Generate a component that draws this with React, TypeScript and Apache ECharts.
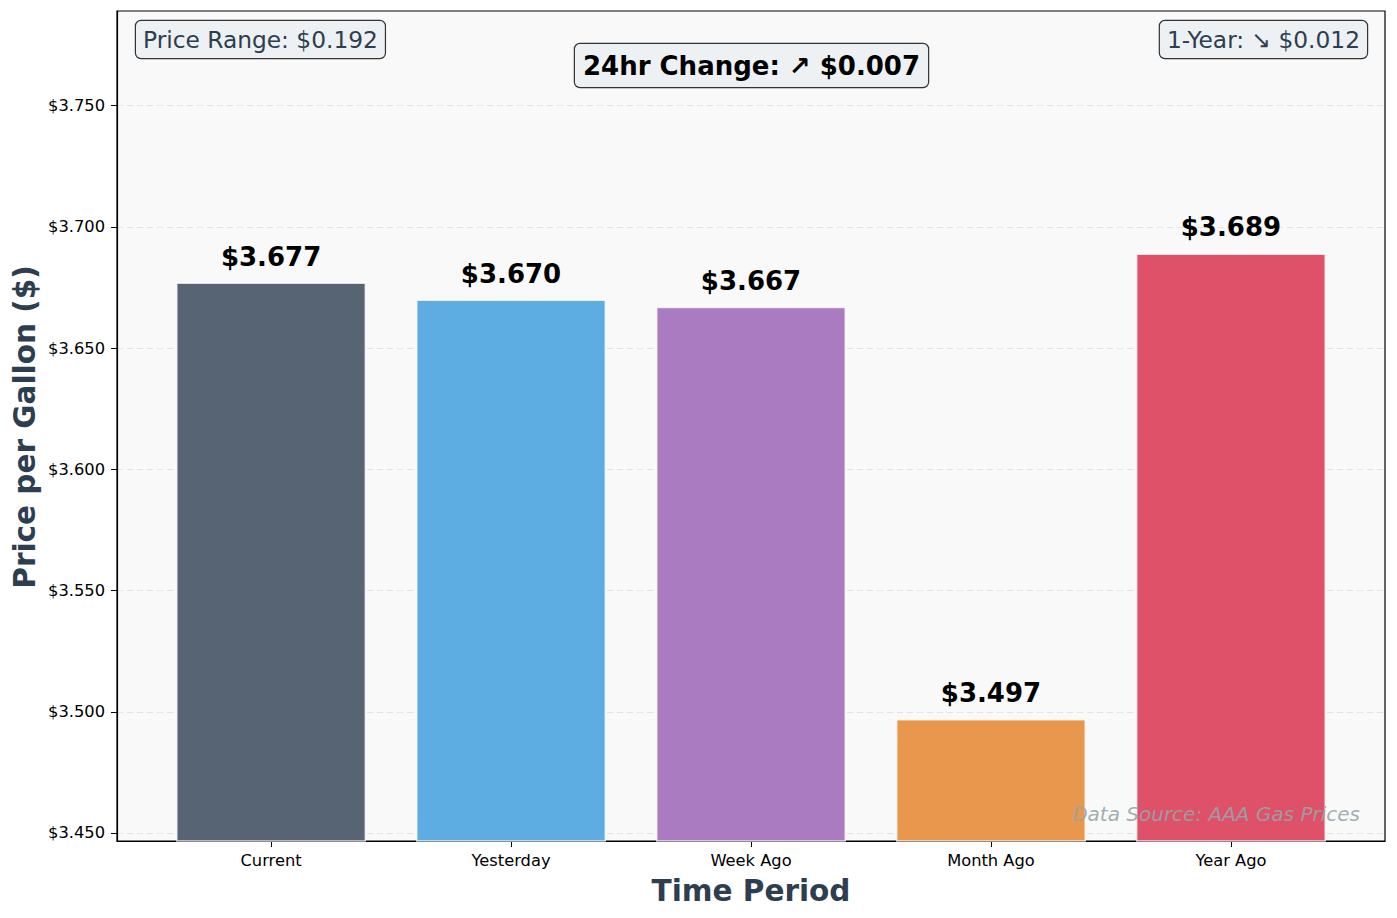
import React, { useEffect, useRef } from 'react';
import * as echarts from 'echarts';

const periods = ['Current', 'Yesterday', 'Week Ago', 'Month Ago', 'Year Ago'];
const prices = [3.677, 3.67, 3.667, 3.497, 3.689];
const barColors = ['#566473', '#5dade2', '#ab7bc2', '#ea974e', '#df5169'];
const yTicks = [3.45, 3.5, 3.55, 3.6, 3.65, 3.7, 3.75];

const FONT = 'DejaVu Sans';

const App: React.FC = () => {
  const chartRef = useRef<HTMLDivElement>(null);

  useEffect(() => {
    const chart = echarts.init(chartRef.current!, null, { renderer: 'svg' });

    const option = {
      animation: false,
      backgroundColor: '#ffffff',
      grid: {
        left: 117,
        right: 12,
        top: 11,
        bottom: 77,
        show: true,
        backgroundColor: '#f9f9f9',
        borderColor: '#000',
        borderWidth: 1.2,
      },
      xAxis: {
        type: 'value',
        min: -0.642,
        max: 4.642,
        axisLine: { show: true, onZero: false, lineStyle: { color: '#000', width: 1.2 } },
        axisTick: { show: true, length: 6, customValues: periods.map((_, i) => i), lineStyle: { color: '#000' } },
        axisLabel: {
          customValues: periods.map((_, i) => i),
          formatter: (v: number) => periods[Math.round(v)] ?? '',
          color: '#000',
          fontFamily: FONT,
          fontSize: 16.3,
          margin: 11,
        },
        splitLine: { show: false },
      },
      yAxis: {
        type: 'value',
        min: 3.4467,
        max: 3.789,
        axisLine: { show: true, onZero: false, lineStyle: { color: '#000', width: 1.2 } },
        axisTick: { show: true, length: 6, customValues: yTicks, lineStyle: { color: '#000' } },
        axisLabel: {
          customValues: yTicks,
          formatter: (v: number) => '$' + v.toFixed(3),
          color: '#000',
          fontFamily: FONT,
          fontSize: 16.3,
          margin: 12,
        },
        splitLine: { show: true, lineStyle: { color: '#e3e3e3', type: [6, 4], width: 1 } },
      },
      series: [
        {
          type: 'bar',
          barWidth: 190,
          data: prices.map((p, i) => ({
            value: [i, p],
            itemStyle: { color: barColors[i], borderColor: 'rgba(255,255,255,0.75)', borderWidth: 1.5 },
          })),
          label: {
            show: true,
            position: 'top',
            distance: 13,
            formatter: (p: any) => '$' + p.value[1].toFixed(3),
            fontFamily: FONT,
            fontWeight: 'bold',
            fontSize: 26,
            color: '#000',
          },
        },
      ],
      graphic: [
        {
          type: 'text',
          x: 751,
          y: 891,
          style: {
            text: 'Time Period',
            align: 'center',
            verticalAlign: 'middle',
            fontFamily: FONT,
            fontWeight: 'bold',
            fontSize: 29.5,
            fill: '#2c3e50',
          },
        },
        {
          type: 'text',
          x: 25,
          y: 427,
          rotation: Math.PI / 2,
          style: {
            text: 'Price per Gallon ($)',
            align: 'center',
            verticalAlign: 'middle',
            fontFamily: FONT,
            fontWeight: 'bold',
            fontSize: 29.5,
            fill: '#2c3e50',
          },
        },
        {
          type: 'text',
          x: 136,
          y: 21,
          z: 10,
          style: {
            text: 'Price Range: $0.192',
            align: 'left',
            verticalAlign: 'top',
            fontFamily: FONT,
            fontSize: 23.3,
            lineHeight: 27,
            fill: '#2c3e50',
            backgroundColor: '#eef1f3',
            borderColor: '#333',
            borderWidth: 1.2,
            borderRadius: 5,
            padding: [5, 7, 5, 7],
          },
        },
        {
          type: 'text',
          x: 1367,
          y: 21,
          z: 10,
          style: {
            text: '1-Year: ↘ $0.012',
            align: 'right',
            verticalAlign: 'top',
            fontFamily: FONT,
            fontSize: 23.3,
            lineHeight: 27,
            fill: '#2c3e50',
            backgroundColor: '#eef1f3',
            borderColor: '#333',
            borderWidth: 1.2,
            borderRadius: 5,
            padding: [5, 7, 5, 7],
          },
        },
        {
          type: 'text',
          x: 751.5,
          y: 44,
          z: 10,
          style: {
            text: '24hr Change: ↗ $0.007',
            align: 'center',
            verticalAlign: 'top',
            fontFamily: FONT,
            fontWeight: 'bold',
            fontSize: 26,
            lineHeight: 31,
            fill: '#000',
            backgroundColor: '#eef1f3',
            borderColor: '#333',
            borderWidth: 1.2,
            borderRadius: 5,
            padding: [6, 8, 6, 8],
          },
        },
        {
          type: 'text',
          x: 1360,
          y: 814,
          z: 10,
          style: {
            text: 'Data Source: AAA Gas Prices',
            align: 'right',
            verticalAlign: 'middle',
            fontFamily: FONT,
            fontStyle: 'italic',
            fontSize: 20,
            fill: 'rgba(149,165,166,0.9)',
          },
        },
      ],
    };

    chart.setOption(option);

    return () => {
      chart.dispose();
    };
  }, []);

  return (
    <div
      ref={chartRef}
      style={{ position: 'fixed', left: 0, top: 0, width: '1397px', height: '918px' }}
    />
  );
};

export default App;
